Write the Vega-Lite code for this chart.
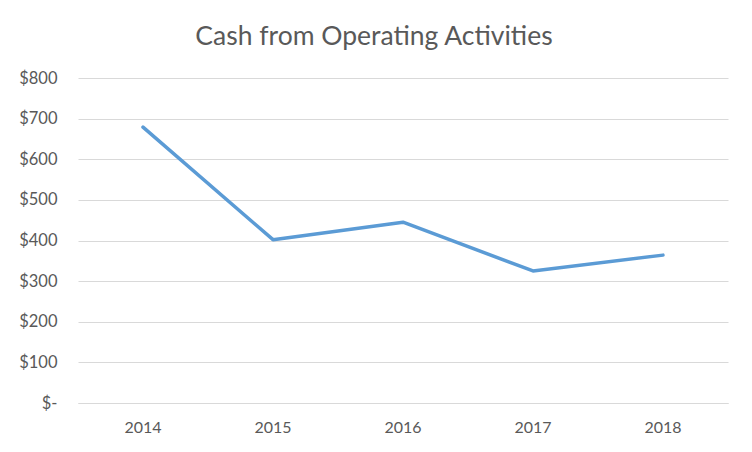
{
  "$schema": "https://vega.github.io/schema/vega-lite/v6.json",
  "width": 650,
  "height": 325,
  "autosize": {"type": "none"},
  "padding": {"left": 78, "top": 78, "right": 24, "bottom": 49},
  "background": "white",
  "title": {
    "text": "Cash from Operating Activities",
    "font": "Lato",
    "fontSize": 26.5,
    "fontWeight": "normal",
    "color": "#595959",
    "anchor": "middle",
    "frame": "group",
    "dx": -29,
    "offset": 20
  },
  "data": {
    "values": [
      {"year": "2014", "cash": 679},
      {"year": "2015", "cash": 402},
      {"year": "2016", "cash": 445},
      {"year": "2017", "cash": 325},
      {"year": "2018", "cash": 364}
    ]
  },
  "mark": {"type": "line", "color": "#5b9bd5", "strokeWidth": 3.5, "strokeCap": "round", "strokeJoin": "round"},
  "encoding": {
    "x": {
      "field": "year",
      "type": "ordinal",
      "scale": {"type": "band", "paddingInner": 0, "paddingOuter": 0},
      "axis": {
        "title": null,
        "labelAngle": 0,
        "ticks": false,
        "domain": true,
        "domainColor": "#d9d9d9",
        "grid": false,
        "labelFont": "Lato",
        "labelFontSize": 16,
        "labelColor": "#595959",
        "labelPadding": 16
      }
    },
    "y": {
      "field": "cash",
      "type": "quantitative",
      "scale": {"domain": [0, 800], "nice": false},
      "axis": {
        "title": null,
        "values": [0, 100, 200, 300, 400, 500, 600, 700, 800],
        "labelExpr": "datum.value == 0 ? '$-\u00a0\u00a0\u00a0' : '$' + datum.label",
        "ticks": false,
        "domain": false,
        "grid": true,
        "gridColor": "#d9d9d9",
        "gridWidth": 1,
        "labelFont": "Lato",
        "labelFontSize": 16.5,
        "labelColor": "#595959",
        "labelPadding": 21
      }
    }
  },
  "config": {"view": {"stroke": null}}
}
